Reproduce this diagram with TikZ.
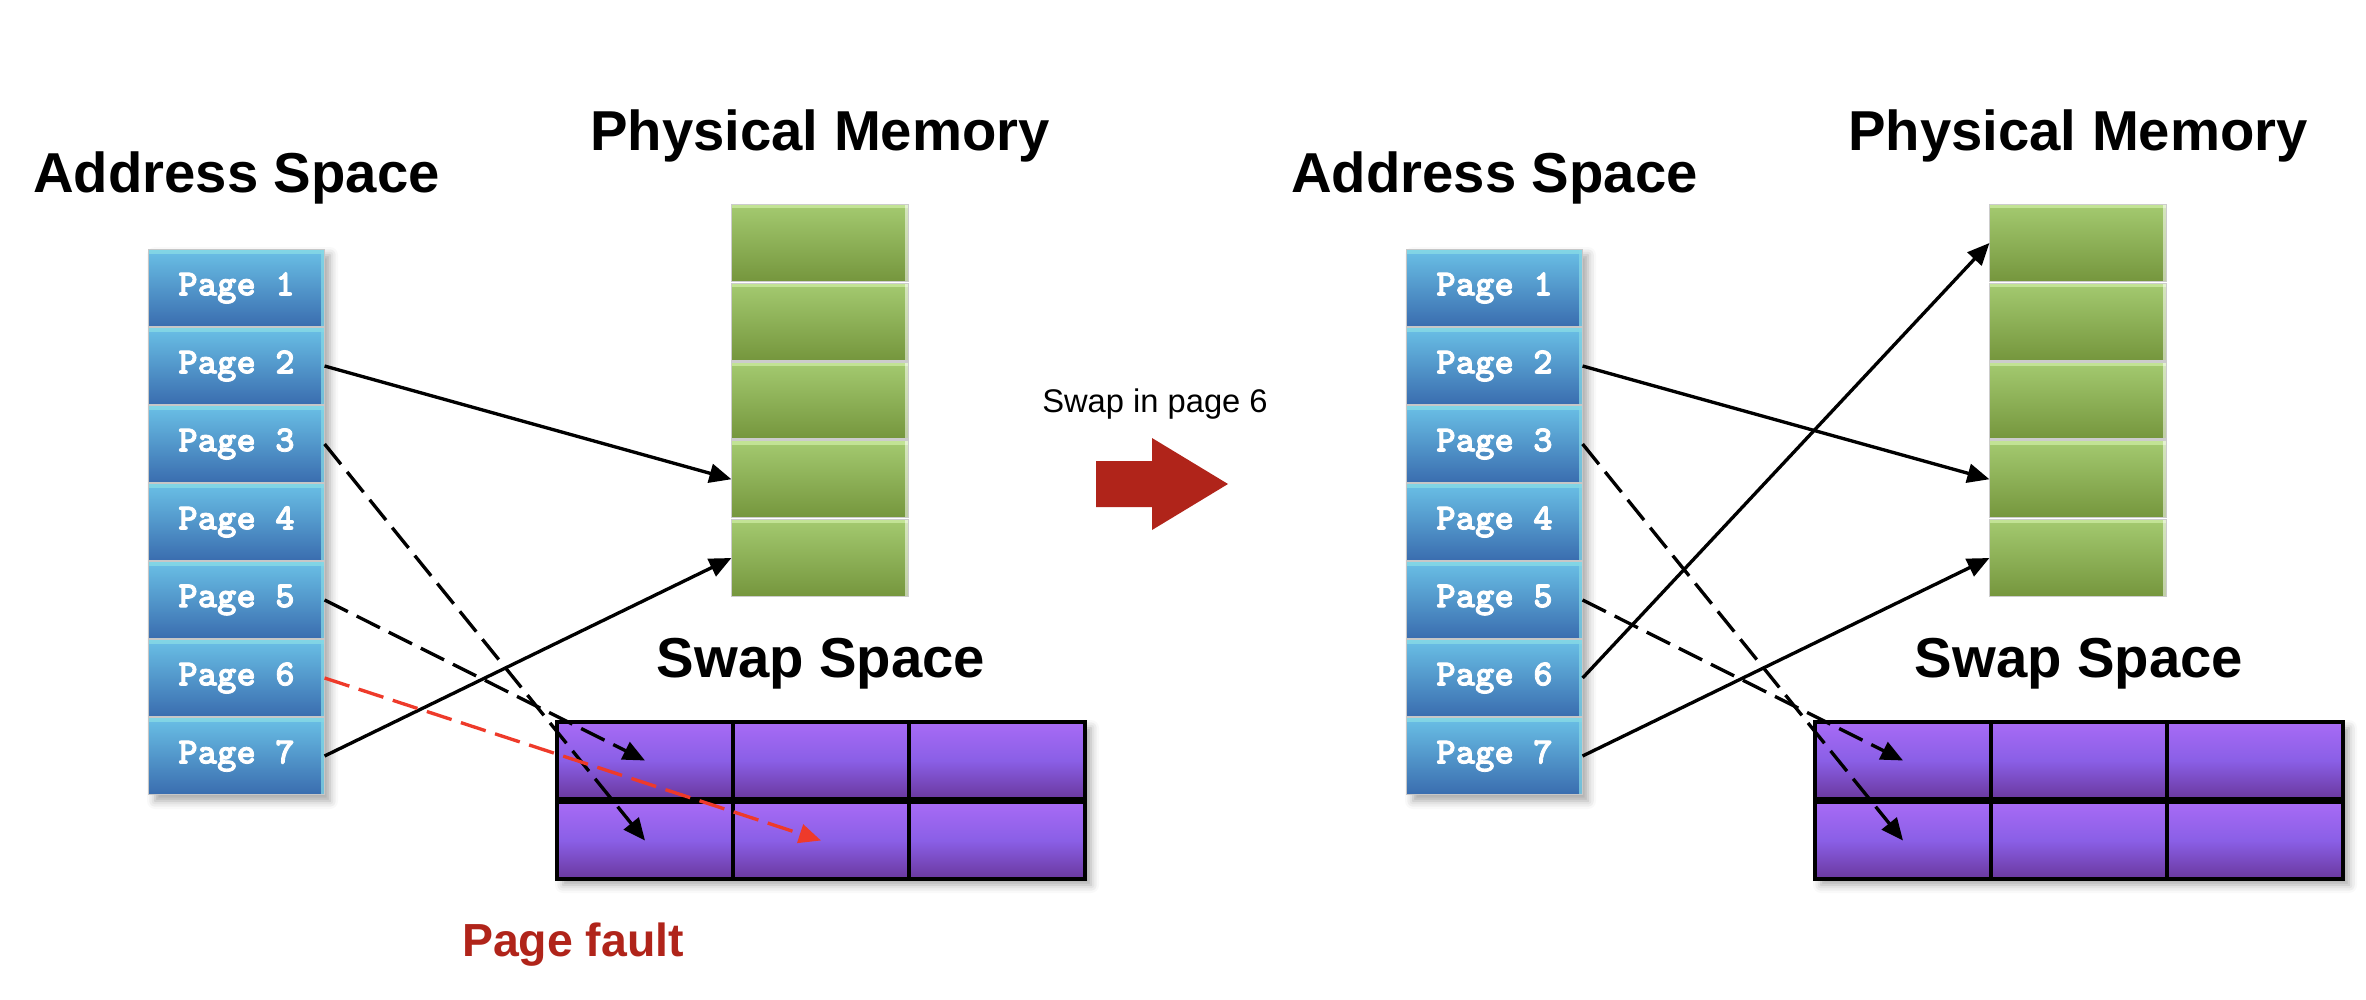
\documentclass[tikz,border=0pt]{standalone}
\usepackage{fontspec}
\setmainfont{Liberation Sans}
\newfontfamily\pagefont{lmmonolt10-bold.otf}[RawFeature={embolden=2.2}]
\usetikzlibrary{arrows.meta,shadows.blur}

\definecolor{pagetop}{HTML}{6AC0E6}
\definecolor{pagebot}{HTML}{3A6DAF}
\definecolor{pagehi}{HTML}{86D9E6}
\definecolor{memtop}{HTML}{A4CA70}
\definecolor{membot}{HTML}{75963D}
\definecolor{memhi}{HTML}{C6E69A}
\definecolor{swaptop}{HTML}{A86BF6}
\definecolor{swapmid}{HTML}{8A5FE6}
\definecolor{swapbot}{HTML}{6A389E}
\definecolor{faultred}{HTML}{B0241A}
\definecolor{dashred}{HTML}{EE3A2A}

\begin{document}
\begin{tikzpicture}[x=0.01cm,y=-0.01cm,
  ttl/.style={font=\fontsize{16}{19}\selectfont\bfseries, inner sep=0pt, anchor=base},
  pagebox/.style={rectangle, minimum width=1.75cm, minimum height=0.765cm, inner sep=0pt,
    top color=pagetop, bottom color=pagebot, draw=black!22, line width=0.3pt,
    text=white, font=\pagefont\fontsize{10.5}{12}\selectfont,
    path picture={
      \fill[pagehi, opacity=0.85] (path picture bounding box.north west) rectangle ([yshift=-0.045cm]path picture bounding box.north east);
      \fill[pagehi, opacity=0.75] ([xshift=-0.03cm]path picture bounding box.north east) rectangle (path picture bounding box.south east);
    }},
  membox/.style={rectangle, minimum width=1.76cm, minimum height=0.77cm, inner sep=0pt,
    top color=memtop, bottom color=membot, draw=black!20, line width=0.3pt,
    path picture={
      \fill[memhi, opacity=0.9] (path picture bounding box.north west) rectangle ([yshift=-0.04cm]path picture bounding box.north east);
      \fill[white, opacity=0.55] ([xshift=-0.03cm]path picture bounding box.north east) rectangle (path picture bounding box.south east);
    }},
  swapcell/.style={rectangle, minimum width=1.76cm, minimum height=0.77cm, inner sep=0pt,
    top color=swaptop, bottom color=swapbot, middle color=swapmid, draw=black, line width=0.9pt},
  colshadow/.style={blur shadow={shadow xshift=0.06cm, shadow yshift=-0.06cm, shadow blur radius=0.08cm, shadow opacity=35}},
  link/.style={draw=black, line width=0.95pt, -{Triangle[length=0.22cm,width=0.19cm]}},
  dlink/.style={link, dash pattern=on 7.4pt off 2.8pt},
  rlink/.style={dlink, draw=dashred}
]
\useasboundingbox (0,0) rectangle (2366,1000);

% ---------- left panel ----------
\path[colshadow] (149,249) rectangle (324,795);
\foreach \i in {1,...,7} {
  \node[pagebox] (lp\i) at (236.5,{210+78*\i}) {Page \i};
}
\foreach \j in {1,...,5} {
  \node[membox] (lg\j) at (820,{243+78.75*(\j-1)}) {};
}
\path[colshadow] (557,722) rectangle (1085,879);
\foreach \c in {1,2,3} {
  \node[swapcell] (ls1\c) at ({645+176*(\c-1)},760.5) {};
  \node[swapcell] (ls2\c) at ({645+176*(\c-1)},840.5) {};
}
\node[ttl] (lat) at (236.5,192) {Address Space};
\node[ttl] (lpm) at (820,150) {Physical Memory};
\node[ttl] (lss) at (821,677) {Swap Space};
\node[font=\fontsize{13.2}{16}\selectfont\bfseries, text=faultred, inner sep=0pt, anchor=base] (lpf) at (573,956) {Page fault};

\draw[link] (lp2.east) -- (lg4.west);
\draw[link] (lp7.east) -- (lg5.west);
\draw[dlink] (lp3.east) -- (ls21.center);
\draw[dlink] (lp5.east) -- (ls11.center);
\draw[rlink] (lp6.east) -- (ls22.center);

% ---------- middle ----------
\node[font=\fontsize{9.3}{11}\selectfont, inner sep=0pt, anchor=base] (swapin) at (1155,412) {Swap in page 6};
\fill[faultred] (1096,461) -- (1152,461) -- (1152,438) -- (1228,484) -- (1152,530) -- (1152,507) -- (1096,507) -- cycle;

% ---------- right panel ----------
\path[colshadow] (1407,249) rectangle (1582,795);
\foreach \i in {1,...,7} {
  \node[pagebox] (rp\i) at (1494.5,{210+78*\i}) {Page \i};
}
\foreach \j in {1,...,5} {
  \node[membox] (rg\j) at (2078,{243+78.75*(\j-1)}) {};
}
\path[colshadow] (1815,722) rectangle (2343,879);
\foreach \c in {1,2,3} {
  \node[swapcell] (rs1\c) at ({1903+176*(\c-1)},760.5) {};
  \node[swapcell] (rs2\c) at ({1903+176*(\c-1)},840.5) {};
}
\node[ttl] (rat) at (1494.5,192) {Address Space};
\node[ttl] (rpm) at (2078,150) {Physical Memory};
\node[ttl] (rss) at (2079,677) {Swap Space};

\draw[link] (rp2.east) -- (rg4.west);
\draw[link] (rp6.east) -- (rg1.west);
\draw[link] (rp7.east) -- (rg5.west);
\draw[dlink] (rp3.east) -- (rs21.center);
\draw[dlink] (rp5.east) -- (rs11.center);
\end{tikzpicture}
\end{document}
